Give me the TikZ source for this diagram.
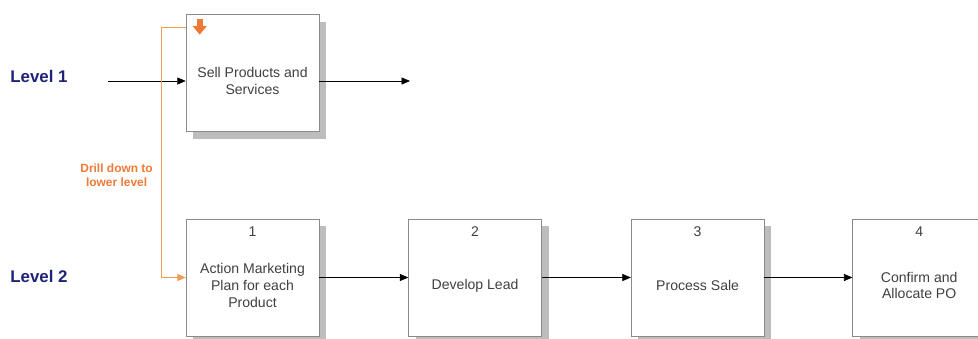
\documentclass[tikz,border=0pt]{standalone}
\usepackage{fontspec}
\setmainfont{Liberation Sans}
\usepackage{tikz}
\usetikzlibrary{positioning, arrows.meta, shadows}
\definecolor{lvlNavy}{HTML}{1F2378}
\definecolor{drillOrange}{HTML}{EE7A36}
\definecolor{drillLine}{HTML}{F39B50}
\definecolor{boxGrey}{HTML}{8A8A8A}
\definecolor{shadowGrey}{HTML}{BDBDBD}

\begin{document}
\begin{tikzpicture}[font=\fontsize{10}{12}\selectfont,
  proc/.style={draw=boxGrey, thin, fill=white, minimum width=3.325cm,
    minimum height=2.925cm, inner sep=0pt,
    general shadow={fill=shadowGrey, shadow xshift=0.175cm, shadow yshift=-0.175cm}},
  txt/.style={align=center, text=black!75, yshift=-0.2cm},
  num/.style={anchor=north, text=black!75, yshift=-0.08cm},
  lvl/.style={font=\fontsize{12}{14}\selectfont\bfseries, text=lvlNavy},
  arr/.style={-{Triangle[length=6pt, width=5pt]}, black, thin},
  drill/.style={-{Triangle[length=6pt, width=5pt]}, drillLine, line width=0.9pt}]

\useasboundingbox (0,0) rectangle (24.45,-8.45);
\clip (0,0) rectangle (24.45,-8.45);

% level 1
\node[proc, label={[txt]center:Sell Products and\\Services}] (sell) at (6.3125,-1.825) {};
\node[lvl] (lvl1) at (0.975,-1.9) {Level 1};
\coordinate (in1) at (2.7,-2.025);
\coordinate (out1) at (10.25,-2.025);
\draw[arr] (in1) -- ([yshift=-0.2cm]sell.west);
\draw[arr] ([yshift=-0.2cm]sell.east) -- (out1);

% drill down marker
\fill[drillOrange] ([xshift=0.275cm,yshift=-0.11cm]sell.north west) rectangle ++(0.15cm,-0.2cm);
\fill[drillOrange] ([xshift=0.175cm,yshift=-0.3cm]sell.north west) -- ++(0.35cm,0)
  -- ++(-0.175cm,-0.21cm) -- cycle;

% level 2
\node[proc, label={[txt]center:Action Marketing\\Plan for each\\Product},
  label={[num]north:1}] (plan) at (6.3125,-6.9375) {};
\node[proc, right=2.225cm of plan, label={[txt]center:Develop Lead},
  label={[num]north:2}] (lead) {};
\node[proc, right=2.225cm of lead, label={[txt]center:Process Sale},
  label={[num]north:3}] (sale) {};
\node[proc, right=2.2cm of sale, label={[txt]center:Confirm and\\Allocate PO},
  label={[num]north:4}] (po) {};
\node[lvl] (lvl2) at (0.975,-6.9) {Level 2};

\draw[arr] (plan) -- (lead);
\draw[arr] (lead) -- (sale);
\draw[arr] (sale) -- (po);

% drill path
\coordinate (turn) at ([xshift=-0.6cm,yshift=-0.325cm]sell.north west);
\draw[drill] ([yshift=-0.325cm]sell.north west) -- (turn) |- (plan.west);
\coordinate (mid) at (turn |- 0,-4.375);
\node[left=0.1cm of mid, align=center, font=\fontsize{8.5}{10}\selectfont\bfseries,
  text=drillOrange] (drilltxt) {Drill down to\\lower level};
\end{tikzpicture}
\end{document}
